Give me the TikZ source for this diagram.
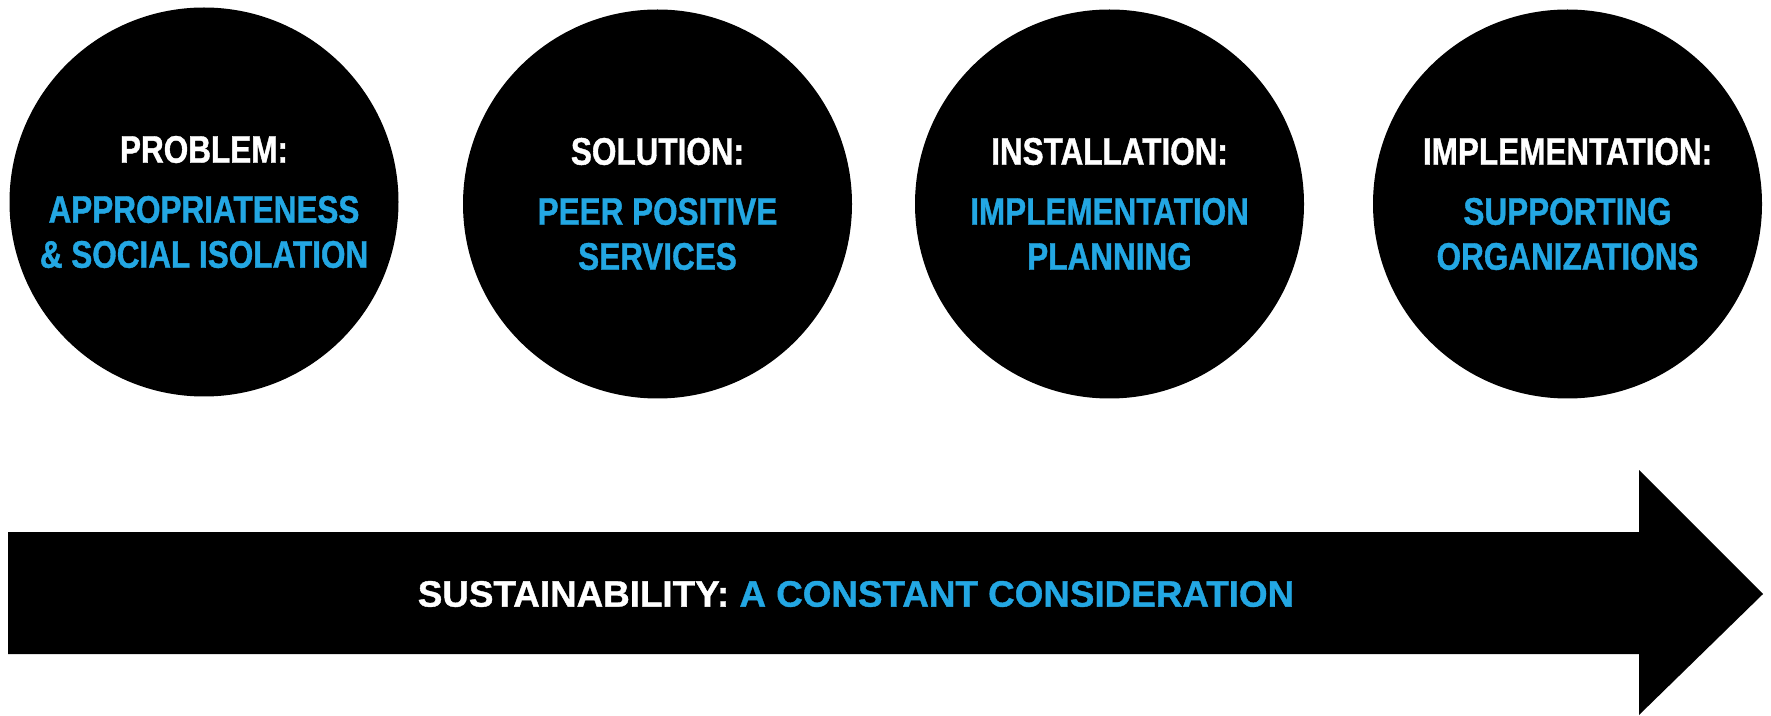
\documentclass[tikz,border=0pt]{standalone}
\usepackage{fontspec}
\usepackage{tikz}
\newfontfamily\stagefont{Liberation Sans}[FakeStretch=0.82, BoldFeatures={FakeBold=1}]
\newfontfamily\barfont{Liberation Sans}[BoldFeatures={FakeBold=1}]
\definecolor{stageblue}{RGB}{35,167,227}
\newcommand{\bluetext}[1]{\textcolor{stageblue}{#1}}
\tikzstyle{stage}=[circle, fill=black, minimum size=194.5pt, inner sep=0pt, align=center, text=white, font=\stagefont\bfseries\fontsize{19.2}{22.5}\selectfont]
\tikzstyle{bartext}=[text=white, font=\barfont\bfseries\fontsize{18.4}{20}\selectfont]

\begin{document}
\begin{tikzpicture}[x=0.5pt, y=-0.5pt]
\useasboundingbox (0,0) rectangle (1771,716);
% the four stages
\node[stage] (problem) at (204,202){PROBLEM:\\[7.5pt] \bluetext{APPROPRIATENESS}\\ \bluetext{\& SOCIAL ISOLATION}};
\node[stage] (solution) at (657.5,204){SOLUTION:\\[7.5pt] \bluetext{PEER POSITIVE}\\ \bluetext{SERVICES}};
\node[stage] (installation) at (1109.5,204){INSTALLATION:\\[7.5pt] \bluetext{IMPLEMENTATION}\\ \bluetext{PLANNING}};
\node[stage] (implementation) at (1567.5,204){IMPLEMENTATION:\\[7.5pt] \bluetext{SUPPORTING}\\ \bluetext{ORGANIZATIONS}};
% big arrow underneath
\fill[black] (8,532) -- (1639,532) -- (1639,470) -- (1763,594) -- (1639,715) -- (1639,654) -- (8,654) -- cycle;
\node[bartext] (sustain) at (856,594){SUSTAINABILITY: \bluetext{A CONSTANT CONSIDERATION}};
\end{tikzpicture}
\end{document}
